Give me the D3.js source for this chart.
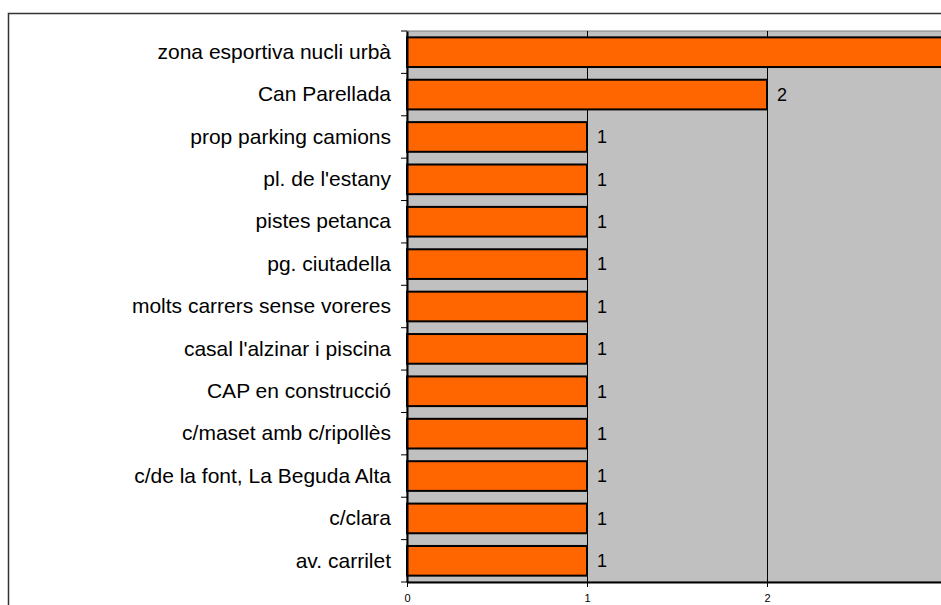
<!DOCTYPE html>
<html>
<head>
<meta charset="utf-8">
<script src="https://cdn.jsdelivr.net/npm/d3@7"></script>
<style>
  body { margin: 0; background: #fff; }
  svg { display: block; }
</style>
</head>
<body>
<div id="chart"></div>
<script>
// categories top to bottom
var categories = [
  "zona esportiva nucli urbà",
  "Can Parellada",
  "prop parking camions",
  "pl. de l'estany",
  "pistes petanca",
  "pg. ciutadella",
  "molts carrers sense voreres",
  "casal l'alzinar i piscina",
  "CAP en construcció",
  "c/maset amb c/ripollès",
  "c/de la font, La Beguda Alta",
  "c/clara",
  "av. carrilet"
];
var values = [3, 2, 1, 1, 1, 1, 1, 1, 1, 1, 1, 1, 1];
var xTicks = [0, 1, 2, 3];

var width = 941, height = 605;
var plot = { left: 407, top: 31, right: 1000, bottom: 582 };
var font = 'Liberation Sans, Arial, sans-serif';

var svg = d3.select('#chart').append('svg')
  .attr('width', width)
  .attr('height', height);

// outer chart frame
svg.append('rect')
  .attr('x', 8.5).attr('y', 13.5)
  .attr('width', 1000).attr('height', 700)
  .attr('fill', '#fff')
  .attr('stroke', '#333')
  .attr('stroke-width', 1.5);

var x = d3.scaleLinear().domain([0, 3]).range([plot.left, plot.left + 540]);
var y = d3.scaleBand().domain(categories).range([plot.top, plot.bottom]).paddingInner(0.3).paddingOuter(0.15);

// only ticks / labels that land inside the window (the chart is cropped on the right)
var visTicks = xTicks.filter(function (d) { return x(d) < width - 5; });

// plot background
svg.append('rect')
  .attr('x', plot.left).attr('y', plot.top)
  .attr('width', plot.right - plot.left).attr('height', plot.bottom - plot.top)
  .attr('fill', '#c0c0c0')
  .attr('stroke', '#808080');

// gridlines
svg.selectAll('.grid')
  .data(visTicks.slice(1))
  .enter().append('line')
  .attr('class', 'grid')
  .attr('x1', function (d) { return Math.round(x(d)) + 0.5; })
  .attr('x2', function (d) { return Math.round(x(d)) + 0.5; })
  .attr('y1', plot.top).attr('y2', plot.bottom)
  .attr('stroke', '#000');

// bars
svg.selectAll('.bar')
  .data(categories)
  .enter().append('rect')
  .attr('class', 'bar')
  .attr('x', x(0))
  .attr('y', function (d) { return y(d); })
  .attr('width', function (d, i) { return x(values[i]) - x(0); })
  .attr('height', y.bandwidth())
  .attr('fill', '#ff6600')
  .attr('stroke', '#000')
  .attr('stroke-width', 2);

// value labels (the one for the top bar falls outside the cropped view)
svg.selectAll('.val')
  .data(categories.filter(function (d, i) { return x(values[i]) + 10 < width; }))
  .enter().append('text')
  .attr('class', 'val')
  .attr('x', function (d) { return x(values[categories.indexOf(d)]) + 10; })
  .attr('y', function (d) { return y(d) + y.bandwidth() / 2; })
  .attr('dy', '0.35em')
  .style('font-family', font)
  .style('font-size', '18px')
  .text(function (d) { return values[categories.indexOf(d)]; });

// y axis
var yAxis = d3.axisLeft(d3.scaleBand().domain(categories).range([plot.top, plot.bottom]))
  .tickSize(0).tickPadding(16);
var yg = svg.append('g')
  .attr('transform', 'translate(' + plot.left + ',0)')
  .call(yAxis);
yg.select('.domain').attr('stroke', '#000').attr('stroke-width', 2);
yg.selectAll('text')
  .attr('y', 0)
  .style('font-family', font)
  .style('font-size', '21px')
  .attr('fill', '#000');
// tick marks at band boundaries
svg.selectAll('.ytick')
  .data(d3.range(categories.length + 1))
  .enter().append('line')
  .attr('class', 'ytick')
  .attr('x1', plot.left - 6).attr('x2', plot.left)
  .attr('y1', function (i) { return plot.top + i * (plot.bottom - plot.top) / categories.length; })
  .attr('y2', function (i) { return plot.top + i * (plot.bottom - plot.top) / categories.length; })
  .attr('stroke', '#000');

// x axis
var xAxis = d3.axisBottom(x).tickValues(visTicks).tickFormat(d3.format('d'))
  .tickSize(5).tickPadding(7).tickSizeOuter(0);
var xg = svg.append('g')
  .attr('transform', 'translate(0,' + plot.bottom + ')')
  .call(xAxis);
xg.select('.domain').attr('stroke', '#000').attr('stroke-width', 2);
xg.selectAll('text')
  .style('font-family', font)
  .style('font-size', '11px')
  .attr('fill', '#000');
</script>
</body>
</html>
